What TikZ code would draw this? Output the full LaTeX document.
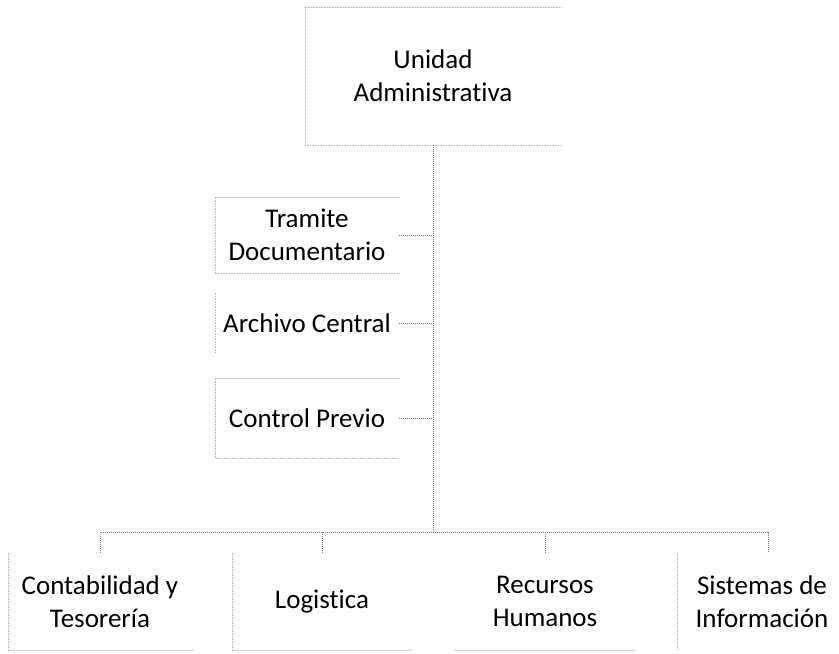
\documentclass[tikz,border=0pt]{standalone}
\usepackage{fontspec}
\setmainfont{Carlito}[Ligatures=NoCommon]
\begin{document}
\begin{tikzpicture}[x=1pt,y=-1pt,
  box/.style={inner sep=0pt, align=center, font=\fontsize{27}{33}\selectfont, text=black},
  bd/.style={draw=gray!55, densely dotted, line width=0.6pt},
  cn/.style={draw=gray, densely dotted, line width=1pt}]
\useasboundingbox[fill=white] (0,0) rectangle (839,654);
% boxes
\node[box, minimum width=256pt, minimum height=138pt] (ua) at (433,76) {Unidad\\Administrativa};
\node[box, minimum width=184pt, minimum height=76pt] (td) at (307,235) {Tramite\\Documentario};
\node[box, minimum width=184pt, minimum height=60pt] (ac) at (307,323) {Archivo Central};
\node[box, minimum width=184pt, minimum height=80pt] (cp) at (307,418) {Control Previo};
\node[box, minimum width=184pt, minimum height=97pt] (ct) at (100,601.5) {Contabilidad y\\Tesorería};
\node[box, minimum width=180pt, minimum height=97pt] (lg) at (322,601.5) {Logistica};
\node[box, minimum width=180pt, minimum height=97pt] (rh) at (545,601.5) {Recursos\\Humanos};
\node[box, minimum width=170pt, minimum height=97pt] (si) at (762,601.5) {Sistemas de\\Información};
% borders
\draw[bd] (ua.north east) -- (ua.north west) -- (ua.south west) -- (ua.south east);
\draw[bd] (td.north east) -- (td.north west) -- (td.south west) -- (td.south east);
\draw[bd] (ac.north west) -- (ac.south west);
\draw[bd] (cp.north east) -- (cp.north west) -- (cp.south west) -- (cp.south east);
\draw[bd] (ct.north west) -- (ct.south west) -- (ct.south east);
\draw[bd] (lg.north west) -- (lg.south west) -- (lg.south east);
\draw[bd] (rh.south west) -- (rh.south east);
\draw[bd] (si.north west) -- (si.south west);
% connectors
\coordinate (bus) at (433,532);
\coordinate (b4) at (768,532);
\draw[cn] (ua.south) -- (bus);
\draw[cn] (td.east) -- (td.east -| ua.south);
\draw[cn] (ac.east) -- (ac.east -| ua.south);
\draw[cn] (cp.east) -- (cp.east -| ua.south);
\draw[cn] (ct.north) -- (ct.north |- bus) -- (b4) -- (b4 |- si.north);
\draw[cn] (lg.north) -- (lg.north |- bus);
\draw[cn] (rh.north) -- (rh.north |- bus);
\end{tikzpicture}
\end{document}
